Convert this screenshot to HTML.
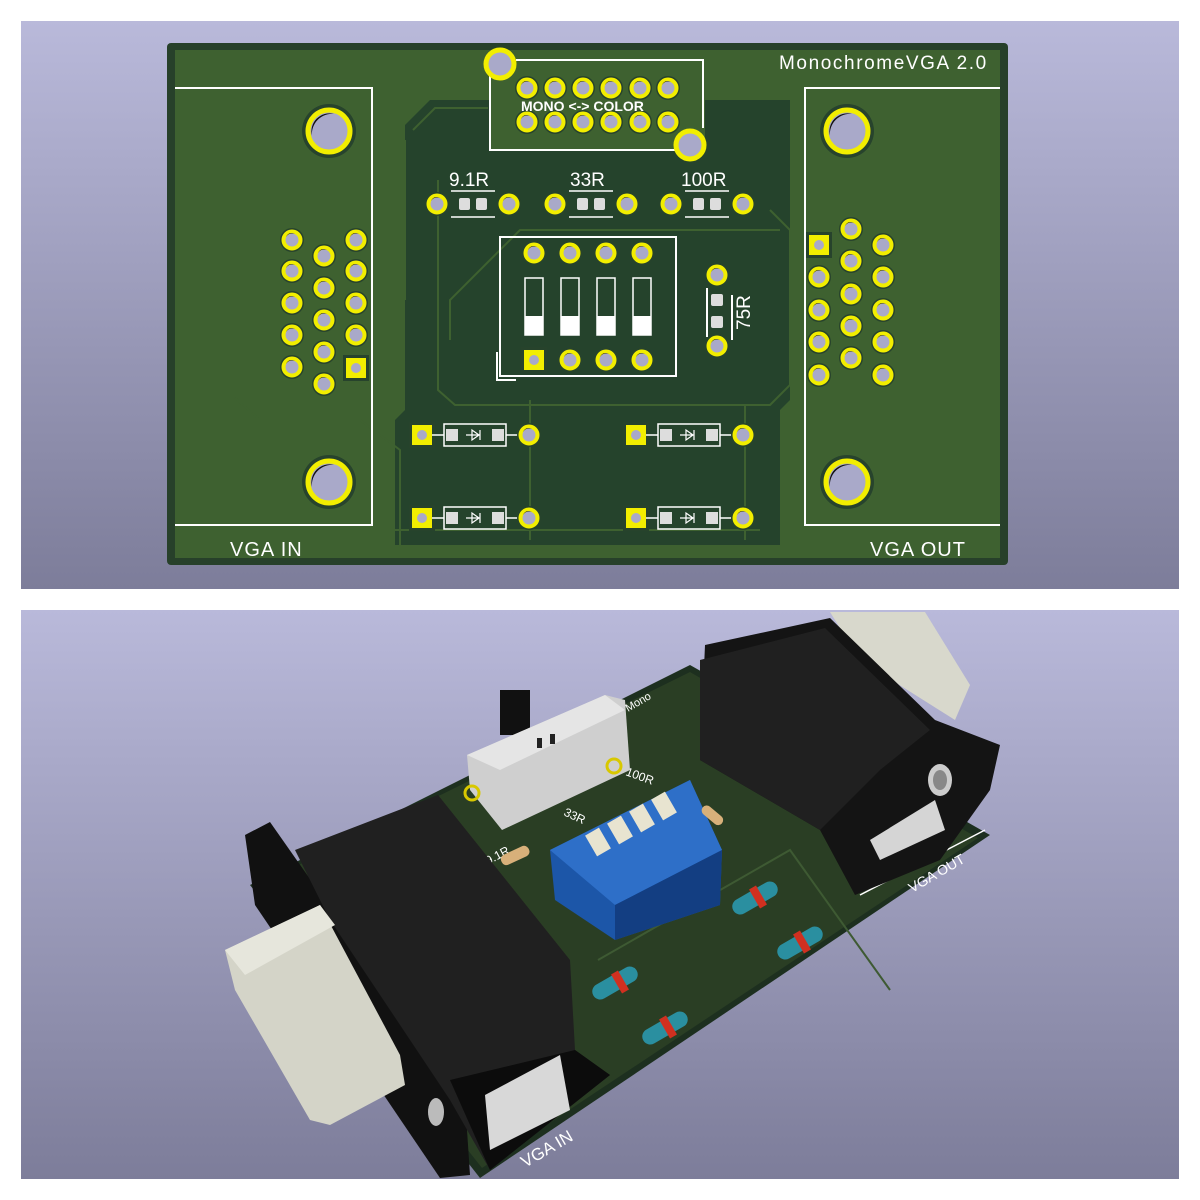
<!DOCTYPE html>
<html><head><meta charset="utf-8"><style>
html,body{margin:0;padding:0;background:#fff;width:1200px;height:1200px;overflow:hidden}
svg{display:block}
text{font-family:"Liberation Sans",sans-serif;fill:#fff}
</style></head><body>
<svg width="1200" height="1200" viewBox="0 0 1200 1200" xmlns="http://www.w3.org/2000/svg">
<defs>
<linearGradient id="bg" x1="0" y1="0" x2="0" y2="1"><stop offset="0" stop-color="#b9b9da"/><stop offset="1" stop-color="#7d7d9a"/></linearGradient>
<g id="p"><circle r="12" fill="#27432c"/><circle r="8.5" fill="#a9a9c9" stroke="#f2ee00" stroke-width="4"/><path d="M-6,-3 A6,6 0 0,1 3,-6 A7,7 0 0,0 -6,-3z" fill="#111"/></g>
<g id="ps"><rect x="-13" y="-13" width="26" height="26" fill="#27432c"/><rect x="-10" y="-10" width="20" height="20" fill="#f2ee00"/><circle r="5" fill="#a9a9c9"/></g>
<g id="mh"><circle r="27" fill="#27432c"/><circle r="21" fill="#a9a9c9" stroke="#f2ee00" stroke-width="5"/><path d="M-17,5 A18,18 0 0,1 5,-17 A20,20 0 0,0 -17,5z" fill="#111"/></g>
<g id="res"><rect x="-14" y="-6" width="11" height="12" rx="2" fill="#ddd"/><rect x="3" y="-6" width="11" height="12" rx="2" fill="#ddd"/><line x1="-22" y1="-13" x2="22" y2="-13" stroke="#fff" stroke-width="1.5"/><line x1="-22" y1="13" x2="22" y2="13" stroke="#fff" stroke-width="1.5"/></g>
<g id="dio"><use href="#ps"/><line x1="10" y1="0" x2="22" y2="0" stroke="#fff" stroke-width="1.5"/><rect x="22" y="-11" width="62" height="22" fill="none" stroke="#fff" stroke-width="1.5"/><rect x="24" y="-6" width="12" height="12" fill="#ddd"/><rect x="70" y="-6" width="12" height="12" fill="#ddd"/><path d="M44 0h14M50 -5v10l7-5z M58 -5v10" stroke="#fff" stroke-width="1.2" fill="none"/><line x1="84" y1="0" x2="97" y2="0" stroke="#fff" stroke-width="1.5"/><use href="#p" x="107"/></g>
</defs>
<rect width="1200" height="1200" fill="#fff"/>
<rect x="21" y="21" width="1158" height="568" fill="url(#bg)"/>
<rect x="21" y="610" width="1158" height="569" fill="url(#bg)"/>

<!-- top PCB -->
<rect x="167" y="43" width="841" height="522" rx="4" fill="#27402a"/>
<rect x="175" y="50" width="825" height="508" fill="#3e6130"/>
<path d="M405 125 L430 100 L490 100 L490 150 L705 150 L705 100 L790 100 L790 400 L780 410 L780 545 L395 545 L395 420 L405 410 Z" fill="#25432c"/>
<g stroke="#3e6130" stroke-width="2" fill="none">
<path d="M413 130 L435 108 L488 108"/><path d="M438 180 L438 390 L455 405 L770 405 L790 385 L790 230 L770 210"/>
<path d="M530 400 L530 540"/><path d="M745 405 L745 540"/><path d="M390 530 L760 530"/>
<path d="M450 340 L450 300 L520 230 L780 230"/><path d="M235 398 L260 420 L360 420 L400 450 L400 545"/>
<path d="M405 300 L405 140"/><path d="M800 200 L905 200 L905 390"/>
</g>
<!-- silkscreen -->
<g stroke="#fff" stroke-width="2" fill="none">
<path d="M175 88 H372 V525 H175"/><path d="M1000 88 H805 V525 H1000"/>
<path d="M516 60 H703 V128 M490 70 V150 H678"/>
<rect x="500" y="237" width="176" height="139"/><path d="M497 352 V380 H516"/>
<path d="M707 288 V337 M732 295 V340"/>
</g>
<text x="779" y="69" font-size="19" letter-spacing="1.6">MonochromeVGA 2.0</text>
<text x="230" y="556" font-size="20" letter-spacing="1">VGA IN</text>
<text x="870" y="556" font-size="20" letter-spacing="1">VGA OUT</text>
<text x="449" y="186" font-size="19">9.1R</text>
<text x="570" y="186" font-size="19">33R</text>
<text x="681" y="186" font-size="19">100R</text>
<text x="0" y="0" font-size="19" transform="translate(750,330) rotate(-90)">75R</text>

<use href="#mh" x="329" y="131"/><use href="#mh" x="329" y="482"/><use href="#mh" x="847" y="131"/><use href="#mh" x="847" y="482"/>
<circle cx="500" cy="64" r="14" fill="#a9a9c9" stroke="#f2ee00" stroke-width="5"/>
<circle cx="690" cy="145" r="14" fill="#a9a9c9" stroke="#f2ee00" stroke-width="5"/>
<g>
<use href="#p" x="527" y="88"/><use href="#p" x="555" y="88"/><use href="#p" x="583" y="88"/><use href="#p" x="611" y="88"/><use href="#p" x="640" y="88"/><use href="#p" x="668" y="88"/>
<use href="#p" x="527" y="122"/><use href="#p" x="555" y="122"/><use href="#p" x="583" y="122"/><use href="#p" x="611" y="122"/><use href="#p" x="640" y="122"/><use href="#p" x="668" y="122"/>
</g>
<text x="521" y="111" font-size="14" font-weight="bold">MONO &lt;-&gt; COLOR</text>
<!-- resistors -->
<use href="#p" x="437" y="204"/><use href="#res" x="473" y="204"/><use href="#p" x="509" y="204"/>
<use href="#p" x="555" y="204"/><use href="#res" x="591" y="204"/><use href="#p" x="627" y="204"/>
<use href="#p" x="671" y="204"/><use href="#res" x="707" y="204"/><use href="#p" x="743" y="204"/>
<!-- dip -->
<use href="#p" x="534" y="253"/><use href="#p" x="570" y="253"/><use href="#p" x="606" y="253"/><use href="#p" x="642" y="253"/>
<use href="#ps" x="534" y="360"/><use href="#p" x="570" y="360"/><use href="#p" x="606" y="360"/><use href="#p" x="642" y="360"/>
<g stroke="#fff" stroke-width="1.5" fill="none">
<rect x="525" y="278" width="18" height="57"/><rect x="561" y="278" width="18" height="57"/><rect x="597" y="278" width="18" height="57"/><rect x="633" y="278" width="18" height="57"/>
</g>
<g fill="#fff"><rect x="525" y="316" width="18" height="19"/><rect x="561" y="316" width="18" height="19"/><rect x="597" y="316" width="18" height="19"/><rect x="633" y="316" width="18" height="19"/></g>
<use href="#p" x="717" y="275"/><use href="#p" x="717" y="346"/>
<rect x="711" y="294" width="12" height="12" rx="2" fill="#ddd"/><rect x="711" y="316" width="12" height="12" rx="2" fill="#ddd"/>
<!-- diodes -->
<use href="#dio" x="422" y="435"/><use href="#dio" x="422" y="518"/><use href="#dio" x="636" y="435"/><use href="#dio" x="636" y="518"/>
<!-- VGA IN pins -->
<use href="#p" x="292" y="240"/><use href="#p" x="292" y="271"/><use href="#p" x="292" y="303"/><use href="#p" x="292" y="335"/><use href="#p" x="292" y="367"/>
<use href="#p" x="324" y="256"/><use href="#p" x="324" y="288"/><use href="#p" x="324" y="320"/><use href="#p" x="324" y="352"/><use href="#p" x="324" y="384"/>
<use href="#p" x="356" y="240"/><use href="#p" x="356" y="271"/><use href="#p" x="356" y="303"/><use href="#p" x="356" y="335"/><use href="#ps" x="356" y="368"/>
<!-- VGA OUT pins -->
<use href="#ps" x="819" y="245"/><use href="#p" x="819" y="277"/><use href="#p" x="819" y="310"/><use href="#p" x="819" y="342"/><use href="#p" x="819" y="375"/>
<use href="#p" x="851" y="229"/><use href="#p" x="851" y="261"/><use href="#p" x="851" y="294"/><use href="#p" x="851" y="326"/><use href="#p" x="851" y="358"/>
<use href="#p" x="883" y="245"/><use href="#p" x="883" y="277"/><use href="#p" x="883" y="310"/><use href="#p" x="883" y="342"/><use href="#p" x="883" y="375"/>

<!-- bottom 3D view -->
<polygon points="250,885 690,665 990,835 480,1178" fill="#1d2f1f"/>
<polygon points="258,885 690,672 978,838 482,1168" fill="#2a3e24"/>
<polyline points="598,960 790,850 890,990" fill="none" stroke="#3e5a33" stroke-width="2"/>
<polyline points="860,895 985,830" fill="none" stroke="#fff" stroke-width="1.5"/>
<text transform="translate(912,893) rotate(-30)" font-size="14">VGA OUT</text>
<text transform="translate(525,1168) rotate(-30)" font-size="17">VGA IN</text>
<text transform="translate(628,712) rotate(-30)" font-size="11">Mono</text>
<text transform="translate(488,865) rotate(-28)" font-size="12">9.1R</text>
<text transform="translate(563,815) rotate(25)" font-size="12">33R</text>
<text transform="translate(625,775) rotate(20)" font-size="12">100R</text>
<!-- VGA OUT connector -->
<polygon points="830,612 925,612 970,685 955,720 860,660" fill="#d8d8cc"/>
<polygon points="705,645 830,618 935,720 1000,745 990,790 940,860 855,895 820,830 700,760" fill="#141414"/>
<polygon points="700,660 825,628 930,730 880,770 820,830 700,760" fill="#202020"/>
<polygon points="870,840 935,800 945,830 880,860" fill="#d5d5d5"/>
<ellipse cx="940" cy="780" rx="12" ry="16" fill="#ccc"/><ellipse cx="940" cy="780" rx="7" ry="10" fill="#888"/>
<!-- switch -->
<polygon points="500,690 530,690 530,735 500,735" fill="#111"/>
<polygon points="467,755 605,695 625,700 630,770 502,830 470,790" fill="#cfcfcf"/>
<polygon points="467,755 605,695 625,710 500,770" fill="#e5e5e5"/>
<rect x="537" y="738" width="5" height="10" fill="#222"/><rect x="550" y="734" width="5" height="10" fill="#222"/>
<circle cx="472" cy="793" r="7" fill="none" stroke="#d8c800" stroke-width="3"/><circle cx="614" cy="766" r="7" fill="none" stroke="#d8c800" stroke-width="3"/>
<!-- blue dip -->
<polygon points="550,850 690,780 722,850 720,905 615,940 555,900" fill="#1c56a8"/>
<polygon points="550,850 690,780 722,850 615,905" fill="#2e6fc8"/>
<polygon points="615,905 722,850 720,905 615,940" fill="#133e82"/>
<g fill="#e8e4d0"><rect x="590" y="830" width="16" height="24" transform="rotate(-30 598 842)"/><rect x="612" y="818" width="16" height="24" transform="rotate(-30 620 830)"/><rect x="634" y="806" width="16" height="24" transform="rotate(-30 642 818)"/><rect x="656" y="794" width="16" height="24" transform="rotate(-30 664 806)"/></g>
<!-- resistors 3d -->
<rect x="500" y="850" width="30" height="11" rx="5" fill="#d8b07a" transform="rotate(-25 515 855)"/>
<rect x="700" y="810" width="25" height="10" rx="5" fill="#d8b07a" transform="rotate(40 712 815)"/>
<!-- diodes 3d -->
<g fill="#2a8fa0"><rect x="590" y="975" width="50" height="16" rx="8" transform="rotate(-30 615 983)"/><rect x="640" y="1020" width="50" height="16" rx="8" transform="rotate(-30 665 1028)"/><rect x="730" y="890" width="50" height="16" rx="8" transform="rotate(-30 755 898)"/><rect x="775" y="935" width="50" height="16" rx="8" transform="rotate(-30 800 943)"/></g>
<g fill="#d03020"><rect x="616" y="971" width="8" height="22" transform="rotate(-30 620 982)"/><rect x="664" y="1016" width="8" height="22" transform="rotate(-30 668 1027)"/><rect x="754" y="886" width="8" height="22" transform="rotate(-30 758 897)"/><rect x="798" y="931" width="8" height="22" transform="rotate(-30 802 942)"/></g>
<!-- VGA IN connector -->
<polygon points="245,835 270,822 465,1100 470,1175 440,1178 255,905" fill="#111"/>
<polygon points="295,850 438,795 570,960 575,1050 610,1075 490,1170 450,1100 330,920" fill="#202020"/>
<polygon points="450,1080 575,1050 610,1075 490,1170" fill="#0c0c0c"/>
<polygon points="485,1095 560,1055 570,1110 490,1150" fill="#d8d8d8"/>
<polygon points="225,950 320,905 400,1055 405,1085 330,1125 310,1120 235,990" fill="#d4d4c8"/>
<polygon points="225,950 320,905 335,925 245,975" fill="#e6e6dc"/>
<ellipse cx="436" cy="1112" rx="8" ry="14" fill="#bbb"/>
</svg>
</body></html>
